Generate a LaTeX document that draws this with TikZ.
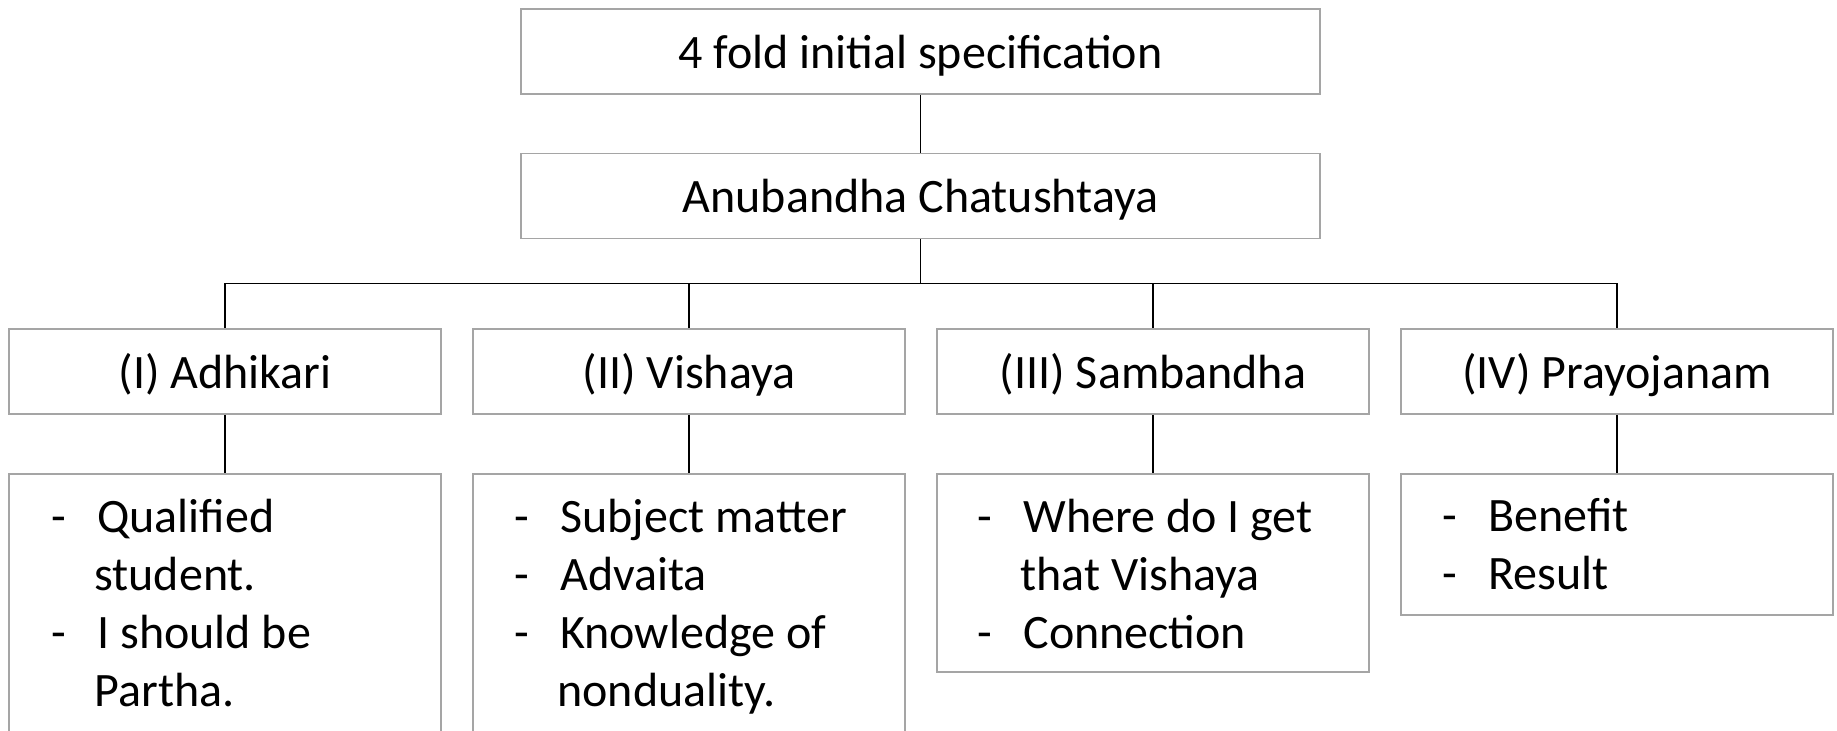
\documentclass[tikz,border=0pt]{standalone}
\usepackage{fontspec}
\setmainfont{Carlito}
\usetikzlibrary{calc}
\definecolor{boxgray}{RGB}{165,165,165}
\tikzset{
  every node/.style={font=\fontsize{48}{58}\selectfont},
  box/.style={draw=boxgray, line width=1.5pt, rectangle, inner sep=0pt},
  labelbox/.style={box, minimum width=432pt, minimum height=85pt,
                   text height=33pt, text depth=0pt},
  headbox/.style={labelbox, minimum width=799pt},
  listbox/.style={box, anchor=north, minimum width=432pt},
  items/.style={anchor=base west, inner sep=0pt},
  link/.style={draw=black, line width=1.4pt},
}
% one bullet line and its hanging continuation
\newcommand{\dashitem}[1]{\makebox[46pt][l]{-}#1}
\newcommand{\dashcont}[1]{\hspace*{43pt}#1}
\begin{document}
\begin{tikzpicture}[x=1pt,y=-1pt]
  \clip (0,0) rectangle (1837,731);

  % heading boxes
  \node[headbox] (spec) at (920.5,51.7) {4 fold initial specification};
  \node[headbox] (anu)  at (920.5,196)  {Anubandha Chatushtaya};

  % the four members
  \node[labelbox] (adh) at (225,371.5)  {(I) Adhikari};
  \node[labelbox] (vis) at (689,371.5)  {(II) Vishaya};
  \node[labelbox] (sam) at (1153,371.5) {(III) Sambandha};
  \node[labelbox] (pra) at (1617,371.5) {(IV) Prayojanam};

  % explanation boxes
  \node[listbox, minimum height=300pt] (adhl) at (225,473)  {};
  \node[listbox, minimum height=300pt] (visl) at (689,473)  {};
  \node[listbox, minimum height=198pt] (saml) at (1153,473) {};
  \node[listbox, minimum height=141pt] (pral) at (1617,473) {};

  \node[items] (adht) at ($(adhl.north west)+(43,59)$) {\parbox[t]{385pt}{%
    \dashitem{Qualified}\\ \dashcont{student.}\\ \dashitem{I should be}\\ \dashcont{Partha.}}};
  \node[items] (vist) at ($(visl.north west)+(42,59)$) {\parbox[t]{385pt}{%
    \dashitem{Subject matter}\\ \dashitem{Advaita}\\ \dashitem{Knowledge of}\\ \dashcont{nonduality.}}};
  \node[items] (samt) at ($(saml.north west)+(41,59)$) {\parbox[t]{385pt}{%
    \dashitem{Where do I get}\\ \dashcont{that Vishaya}\\ \dashitem{Connection}}};
  \node[items] (prat) at ($(pral.north west)+(42,58)$) {\parbox[t]{385pt}{%
    \dashitem{Benefit}\\ \dashitem{Result}}};

  % connectors
  \coordinate (bus) at (920.5,283.5);
  \draw[link] (spec.south) -- (anu.north);
  \draw[link] (anu.south) -- (bus);
  \draw[link] (bus) -| (adh.north);
  \draw[link] (bus) -| (vis.north);
  \draw[link] (bus) -| (sam.north);
  \draw[link] (bus) -| (pra.north);
  \draw[link] (adh.south) -- (adhl.north);
  \draw[link] (vis.south) -- (visl.north);
  \draw[link] (sam.south) -- (saml.north);
  \draw[link] (pra.south) -- (pral.north);
\end{tikzpicture}
\end{document}
